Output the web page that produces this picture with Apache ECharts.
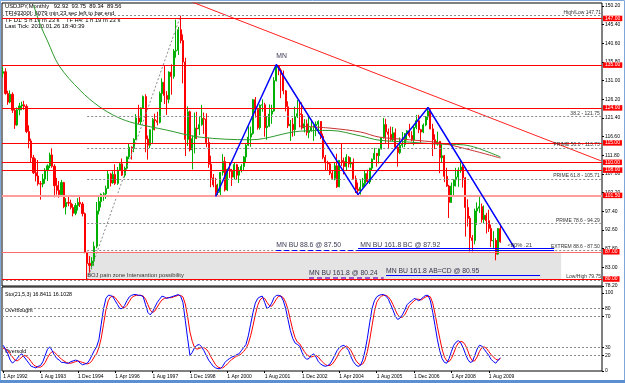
<!DOCTYPE html>
<html><head><meta charset="utf-8">
<script src="https://cdn.jsdelivr.net/npm/echarts@6/dist/echarts.min.js"></script>
<style>html,body{margin:0;padding:0;background:#fff}#c{width:625px;height:383px}</style>
</head><body><div id="c"></div>
<script>
// ---------- categories (monthly bars, Apr 1992 onwards, with empty right shift) ----------
const MONTHS = ['Jan','Feb','Mar','Apr','May','Jun','Jul','Aug','Sep','Oct','Nov','Dec'];
const NUM_SLOTS = 257;
const categories = [];
for (let i = 0; i < NUM_SLOTS; i++) { const t = 3 + i; categories.push('1 ' + MONTHS[t % 12] + ' ' + (1992 + Math.floor(t / 12))); }
const LAST_BAR = 213;

// ---------- USDJPY monthly OHLC ----------
const opens = [132.9,133.3,127.7,125.5,127.5,123.4,119.6,123.5,124.5,124.8,
124.4,117.9,115.5,111.2,107.3,106.5,104.5,104.4,105.7,108.0,
109.1,111.9,109.0,104.0,102.8,101.7,104.8,98.6,99.7,99.5,
98.4,96.9,98.9,99.7,99.3,96.8,86.9,84.0,83.5,84.6,
88.4,97.5,99.9,101.8,101.9,103.3,107.0,104.7,106.9,104.6,
108.0,109.6,106.7,108.5,111.4,113.9,113.6,115.9,121.4,120.4,
124.0,126.9,116.0,114.4,118.4,121.0,120.7,120.3,127.7,130.6,
127.2,126.2,133.2,132.1,138.6,138.8,144.1,141.3,135.8,115.9,
123.0,113.2,116.1,118.8,118.6,119.7,121.3,121.1,115.1,109.5,
106.0,104.2,102.2,102.3,107.4,110.2,102.9,108.2,107.7,106.2,
109.4,106.7,108.0,108.9,111.4,114.4,116.5,117.4,126.1,123.6,
118.9,124.7,124.8,118.9,119.3,122.4,123.2,131.0,134.7,133.7,
132.6,128.4,124.3,119.4,119.8,118.4,121.8,122.5,122.3,118.8,
119.9,117.7,118.1,119.0,119.4,119.8,120.5,116.7,111.3,109.9,
109.6,107.2,105.9,109.1,103.7,110.5,110.2,108.9,111.3,109.6,
110.0,105.8,103.1,102.7,103.6,104.6,107.1,105.0,108.5,110.8,
112.3,111.7,113.4,116.3,119.7,117.8,117.2,115.8,117.6,113.9,
112.5,114.4,114.6,117.4,118.1,116.9,115.8,119.0,120.7,118.4,
117.8,119.6,121.7,123.2,118.6,115.8,114.8,115.4,111.2,111.7,
106.4,103.9,99.7,103.9,105.5,106.2,108.0,108.8,106.0,98.4,
95.6,90.6,89.9,97.5,98.2,98.6,95.3,96.4,95.0,93.0,
89.8,89.9,86.4,92.92];
const highs = [134.5,134.2,128.4,128.5,128.0,123.8,124.1,125.3,125.6,125.8,
124.9,119.5,116.1,111.9,111.0,110.6,105.2,107.0,108.5,109.5,
112.5,113.6,109.5,106.0,105.2,105.5,105.0,100.8,101.3,100.4,
99.3,99.5,100.8,101.4,99.8,97.1,86.9,85.9,85.6,89.6,
99.8,101.1,102.0,102.3,104.0,107.9,107.3,107.7,109.5,108.8,
109.8,111.0,108.9,111.5,114.9,114.1,116.2,122.4,124.8,124.1,
127.2,127.5,116.9,118.5,121.4,122.5,123.0,128.2,131.6,135.0,
128.3,133.4,135.2,139.1,146.7,144.8,147.7,142.9,136.9,124.4,
123.3,116.9,122.8,123.0,121.8,124.8,122.8,122.6,116.3,111.7,
107.0,106.0,104.5,107.5,112.1,111.4,108.4,110.1,108.3,110.0,
109.6,108.8,109.5,111.6,114.7,119.3,119.2,126.3,126.8,124.0,
124.9,126.2,125.3,121.9,124.9,124.8,131.9,135.2,134.9,134.2,
133.6,128.6,125.7,120.9,121.4,124.3,126.0,125.6,125.4,121.1,
121.0,121.8,120.6,119.5,120.5,120.8,120.6,117.4,111.9,110.4,
109.8,108.0,110.0,112.2,110.6,114.9,111.2,112.1,111.6,111.3,
111.0,106.6,104.8,105.4,106.0,107.8,108.1,108.6,111.0,113.7,
112.4,113.6,116.4,121.4,121.2,118.7,119.2,119.1,118.7,114.1,
116.4,117.8,117.5,118.3,119.9,118.0,119.3,122.2,122.2,118.6,
120.0,121.9,124.1,123.6,119.9,117.2,117.9,115.5,114.6,111.9,
108.6,104.2,104.8,105.6,108.6,108.7,110.7,109.3,106.2,100.5,
96.2,91.3,98.1,99.7,101.4,99.4,98.9,97.0,97.8,94.0,
92.3,90.5,93.1,93.75];
const lows = [131.9,127.4,124.8,125.2,122.7,118.6,119.4,122.1,123.4,123.5,
117.5,113.6,110.0,107.0,105.1,104.0,100.4,103.6,104.5,105.2,
108.5,108.6,101.0,101.7,100.9,101.5,98.2,96.6,98.7,97.9,
96.1,96.4,97.6,98.5,96.1,86.6,79.75,81.6,82.5,83.4,
87.9,96.6,98.4,100.1,100.6,103.2,103.8,104.5,104.2,104.2,
107.8,106.5,106.1,108.2,110.8,110.7,112.6,115.7,119.8,119.7,
123.8,112.6,110.7,113.7,114.7,118.2,119.5,120.0,125.5,125.0,
122.2,125.2,127.4,131.5,136.9,137.6,140.6,130.3,111.6,114.2,
112.8,108.2,112.3,116.0,117.0,119.4,117.3,113.9,108.6,103.6,
103.6,101.5,101.3,101.4,106.6,102.5,102.6,106.0,103.9,105.6,
105.6,104.7,107.4,107.8,109.8,114.2,114.0,117.1,121.5,118.4,
118.4,123.0,116.6,115.8,119.1,119.9,123.0,130.8,132.4,126.5,
127.5,123.1,118.8,115.5,116.6,116.8,121.4,119.0,118.4,117.7,
116.9,116.2,117.9,115.5,116.7,117.4,116.0,110.8,107.9,107.9,
106.7,105.5,105.4,103.4,103.6,109.1,106.9,108.0,108.7,108.6,
105.6,102.1,101.8,101.7,103.5,103.7,104.5,104.4,107.9,110.6,
108.9,109.7,113.3,116.1,115.0,113.4,115.5,115.4,113.7,108.9,
112.1,113.8,113.9,115.6,116.4,115.4,114.4,118.5,117.5,115.1,
117.5,119.3,120.9,118.5,111.6,113.4,114.3,107.2,110.0,104.9,
103.7,95.7,99.6,101.5,103.8,103.7,107.3,103.5,90.9,93.5,
87.1,87.1,88.9,93.9,97.0,94.5,94.4,91.7,92.1,88.2,
88.0,84.8,86.2,89.34];
const closes = [133.3,127.7,125.5,127.5,123.4,119.6,123.5,124.5,124.8,124.4,
117.9,115.5,111.2,107.3,106.5,104.5,104.4,105.7,108.0,109.1,
111.9,109.0,104.0,102.8,101.7,104.8,98.6,99.7,99.5,98.4,
96.9,98.9,99.7,99.3,96.8,86.9,84.0,83.5,84.6,88.4,
97.5,99.9,101.8,101.9,103.3,107.0,104.7,106.9,104.6,108.0,
109.6,106.7,108.5,111.4,113.9,113.6,115.9,121.4,120.4,124.0,
126.9,116.0,114.4,118.4,121.0,120.7,120.3,127.7,130.6,127.2,
126.2,133.2,132.1,138.6,138.8,144.1,141.3,135.8,115.9,123.0,
113.2,116.1,118.8,118.6,119.7,121.3,121.1,115.1,109.5,106.0,
104.2,102.2,102.3,107.4,110.2,102.9,108.2,107.7,106.2,109.4,
106.7,108.0,108.9,111.4,114.4,116.5,117.4,126.1,123.6,118.9,
124.7,124.8,118.9,119.3,122.4,123.2,131.0,134.7,133.7,132.6,
128.4,124.3,119.4,119.8,118.4,121.8,122.5,122.3,118.8,119.9,
117.7,118.1,119.0,119.4,119.8,120.5,116.7,111.3,109.9,109.6,
107.2,105.9,109.1,103.7,110.5,110.2,108.9,111.3,109.6,110.0,
105.8,103.1,102.7,103.6,104.6,107.1,105.0,108.5,110.8,112.3,
111.7,113.4,116.3,119.7,117.8,117.2,115.8,117.6,113.9,112.5,
114.4,114.6,117.4,118.1,116.9,115.8,119.0,120.7,118.4,117.8,
119.6,121.7,123.2,118.6,115.8,114.8,115.4,111.2,111.7,106.4,
103.9,99.7,103.9,105.5,106.2,108.0,108.8,106.0,98.4,95.6,
90.6,89.9,97.5,98.2,98.6,95.3,96.4,95.0,93.0,89.8,
89.9,86.4,93.0,89.56];

// ---------- moving averages (read at anchor months) ----------
const greenMA = [[13,150.5],[16,145.2],[19,141.2],[24,134.8],[33,128.5],[41,124.4],[49,121.6],[56,120.1],[70,118.3],[84,116.5],[106,115.8],[127,118.0],[140,118.2],[153,116.8],[161,115.7],[174,115.2],[186,114.7],[197,114.5],[203,113.7],[213,111.4]];
const redMA = [[127,119.3],[140,118.8],[153,117.8],[161,116.5],[174,115.8],[187,115.0],[200,113.2],[213,111.1]];

// ---------- drawn objects ----------
const zigzag = [[91,101.2],[117,135.15],[152,101.7],[182,124.1],[219,88.0]];
const trendRed = [[81,151.2],[256,110.4]];
const fibDiag = [[36,79.75],[76,147.71]];
const redLevels = [147.00,135.00,124.00,115.00,110.00,108.00,101.50,87.00,80.00];
const bidPrice = 89.56;
const fibFull = [[147.71,'High/Low 147.71'],[79.75,'Low/High 79.75']];
const fibLevels = [[121.75,'38.2 - 121.75'],[113.73,'PRIME 50.0 - 113.73'],[105.71,'PRIME 61.8 - 105.71'],[94.29,'PRIME 78.6 - 94.29'],[87.50,'EXTREM 88.6 - 87.50']];
const fibStart = 36;
const zone = [36,239,79.75,87.00];
const mnDashed = [[117,152,87.50]];
const mnSolid = [[152,236,87.92],[152,236,87.50],[164,230,80.95]];
const mnPurple = [[131,163,80.24]];
const annotations = [[117,137.2,'MN'],[117,88.6,'MN BU 88.6 @ 87.50'],[153,88.8,'MN BU 161.8 BC @ 87.92'],[131,81.5,'MN BU 161.8 @ 80.24'],[164,82.15,'MN BU 161.8 AB=CD @ 80.95']];
const smallNotes = [[36,81.0,'BOJ pain zone Intervantion possibility'],[216,88.6,'<80% .21']];

// ---------- stochastic (21,5,3) ----------
const stoK = [33,28,22,14,10,13,16,20,22,18,
14,10,6,5,4,6,7,12,20,28,
31,26,20,16,14,11,11,10,10,12,
13,14,13,10,8,9,10,14,20,26,
31,40,60,80,93,97,97,95,90,85,
80,80,84,90,95,97,98,98,97,97,
95,85,75,72,76,82,88,92,96,95,
93,94,95,96,97,98,96,88,65,42,
20,24,30,33,34,31,26,20,14,10,
6,4,3,3,6,11,14,16,18,19,
21,22,26,30,34,45,60,75,87,93,
95,96,88,80,82,87,94,97,97,96,
90,80,66,52,42,36,34,32,24,18,
15,16,20,22,18,12,9,7,6,7,
9,14,20,26,30,32,33,30,26,18,
12,8,6,7,14,26,42,62,80,90,
95,97,98,98,96,92,85,78,70,66,
68,72,78,85,88,90,93,92,90,92,
95,97,97,90,75,58,40,26,16,11,
10,16,25,33,37,39,36,30,22,15,
11,12,20,28,33,32,28,24,20,15,
12,10,14,16.84];
const stoD = [29,28,26,22,18,14,13,15,18,20,
19,16,12,8,6,5,5,7,11,17,
22,25,24,21,18,15,13,11,10,10,
11,12,13,12,11,10,9,10,13,18,
22,30,42,60,78,90,95,96,94,90,
86,82,81,84,89,94,96,97,97,97,
96,92,85,78,75,77,82,87,91,93,
94,94,94,95,96,97,97,95,86,70,
50,38,30,28,29,30,30,28,24,18,
13,8,5,4,4,6,9,12,15,17,
19,20,22,25,29,35,45,58,72,84,
91,94,93,88,84,83,87,92,96,96,
94,88,79,66,53,43,37,35,30,25,
21,19,18,19,20,18,14,11,8,7,
7,9,13,18,24,28,30,32,30,26,
20,14,10,8,9,14,25,40,58,76,
88,93,96,97,97,95,91,85,78,72,
69,69,72,78,84,87,90,92,92,91,
93,95,96,95,87,73,57,42,28,18,
13,12,16,23,31,36,38,37,33,26,
18,13,13,18,25,30,31,29,25,21,
18,15,14,16.1];
const stoLevels = [80,70,30,20];

// ---------- tick labels ----------
const priceTicks = [150.2,145.4,140.6,135.8,131.0,126.2,121.4,116.6,111.8,107.0,102.2,97.4,92.6,87.8,83.0,78.2];
const stoTicks = [0,20,30,70,80,100];
const headerLines = ['USDJPY,Monthly   92.92  93.75  89.34  89.56','TF[43200]: 6079 min 23 sec left to bar end','TF D1: 5 h 19 m 23 s    TF H4: 1 h 19 m 23 s','Last Tick: 2010.01.26 18:40:39'];
const stoTitle = 'Sto(21,5,3) 16.8411 16.1028';

// ================= build =================
const FONT = '"Liberation Sans", Arial, sans-serif';
const chart = echarts.init(document.getElementById('c'), null, {renderer:'canvas'});
const candleData = opens.map((o,i)=>[o, closes[i], lows[i], highs[i]]);
const xlabIdx = (i) => i % 16 === 0 && i <= LAST_BAR;
const dotted = {color:'#8a8a8a', width:1, type:[2,2]};
function seg(i0,i1,v,lineStyle,label){ return [{coord:[i0,v], lineStyle, label: label || {show:false}},{coord:[i1,v]}]; }

const series = [
  { type:'line', xAxisIndex:0, yAxisIndex:0, data:[], z:0,
    markArea:{silent:true, itemStyle:{color:'#e4e4e4'}, data:[[{coord:[zone[0],zone[3]]},{coord:[zone[1],zone[2]]}]]} },
  { type:'line', xAxisIndex:0, yAxisIndex:0, data:[], z:1,
    markLine:{silent:true, symbol:'none', animation:false,
      data: fibFull.map(f=>({yAxis:f[0], lineStyle:dotted, label:{show:true, position:'insideEndTop', formatter:f[1], fontSize:5, color:'#333', fontFamily:FONT, distance:[1,0.5]}}))
        .concat(fibLevels.map(f=>seg(fibStart, NUM_SLOTS-1, f[0], dotted, {show:true, position:'insideEndTop', formatter:f[1], fontSize:5, color:'#333', fontFamily:FONT, distance:[1,0.5]})))} },
  { type:'line', xAxisIndex:0, yAxisIndex:0, data:[], z:2,
    markLine:{silent:true, symbol:'none', animation:false,
      data: redLevels.map(v=>({yAxis:v, lineStyle:{color: v===101.5 ? '#ff9c9c' : (v===87 ? '#ff6a6a' : '#ff0000'), width: v===101.5 ? 2 : 1, type:'solid'},
        label:{show:true, position:'end', distance:1, formatter:v.toFixed(2), backgroundColor:'#ff0000', color:'#fff', fontSize:5, fontFamily:FONT, padding:[0.5,2,0,2]}}))
        .concat([{yAxis:bidPrice, lineStyle:{opacity:0}, label:{show:true, position:'end', distance:1, formatter:bidPrice.toFixed(2), backgroundColor:'#000', color:'#fff', fontSize:5, fontFamily:FONT, padding:[0.5,2,0,2]}}])} },
  { type:'candlestick', xAxisIndex:0, yAxisIndex:0, data:candleData, barWidth:1.6, z:3,
    itemStyle:{color:'#00b000', color0:'#ff0000', borderColor:'#00b000', borderColor0:'#ff0000', borderWidth:1} },
  { type:'line', xAxisIndex:0, yAxisIndex:0, data:greenMA, smooth:0.35, symbol:'none', z:4, lineStyle:{color:'#2e9a2e', width:1} },
  { type:'line', xAxisIndex:0, yAxisIndex:0, data:redMA, smooth:0.35, symbol:'none', z:4, lineStyle:{color:'#c83232', width:1} },
  { type:'line', xAxisIndex:0, yAxisIndex:0, data:fibDiag, symbol:'none', z:4, lineStyle:dotted },
  { type:'line', xAxisIndex:0, yAxisIndex:0, data:trendRed, symbol:'none', z:4, lineStyle:{color:'#ff2020', width:1} },
  { type:'line', xAxisIndex:0, yAxisIndex:0, data:zigzag, symbol:'none', z:5, lineStyle:{color:'#0000ff', width:1.5} },
  { type:'line', xAxisIndex:0, yAxisIndex:0, data:[], z:5,
    markLine:{silent:true, symbol:'none', animation:false,
      data: mnDashed.map(s=>seg(s[0],s[1],s[2],{color:'#0000ff', width:1, type:[5,3]}))
        .concat(mnSolid.map(s=>seg(s[0],s[1],s[2],{color:'#0000ff', width:1, type:'solid'})))
        .concat(mnPurple.map(s=>seg(s[0],s[1],s[2],{color:'#7b2fbf', width:1.5, type:[5,3]})))} },
  { type:'scatter', xAxisIndex:0, yAxisIndex:0, symbolSize:0, z:6, silent:true,
    data: annotations.map(a=>({value:[a[0],a[1]], name:a[2]})),
    label:{show:true, position:'right', distance:0, formatter:'{b}', fontSize:6.8, color:'#000022', fontFamily:FONT} },
  { type:'scatter', xAxisIndex:0, yAxisIndex:0, symbolSize:0, z:6, silent:true,
    data: smallNotes.map(a=>({value:[a[0],a[1]], name:a[2]})),
    label:{show:true, position:'right', distance:0, formatter:'{b}', fontSize:5.8, color:'#000', fontFamily:FONT} },
  // stochastic
  { type:'line', xAxisIndex:1, yAxisIndex:1, data:[], z:1,
    markLine:{silent:true, symbol:'none', animation:false, label:{show:false},
      data: stoLevels.map(v=>({yAxis:v, lineStyle:{color:'#8a8a8a', width:1, type:[2,2]}}))} },
  { type:'line', xAxisIndex:1, yAxisIndex:1, data:stoD, symbol:'none', z:3, lineStyle:{color:'#ff0000', width:1} },
  { type:'line', xAxisIndex:1, yAxisIndex:1, data:stoK, symbol:'none', z:4, lineStyle:{color:'#0000ff', width:1} }
];

const axisLbl = {fontSize:5, color:'#000', fontFamily:FONT};
const option = {
  animation:false,
  backgroundColor:'#ffffff',
  grid:[
    {left:2, top:3, width:600, height:283, show:true, borderColor:'#000', borderWidth:1, backgroundColor:'transparent'},
    {left:2, top:287, width:600, height:84, show:true, borderColor:'#000', borderWidth:1, backgroundColor:'transparent'}
  ],
  xAxis:[
    {type:'category', gridIndex:0, data:categories, axisLine:{show:false}, axisTick:{show:false}, axisLabel:{show:false}, splitLine:{show:false}},
    {type:'category', gridIndex:1, data:categories, axisLine:{show:false},
      axisTick:{show:true, interval:xlabIdx, alignWithLabel:true, length:2, lineStyle:{color:'#000'}},
      axisLabel:Object.assign({interval:xlabIdx, align:'left', margin:3}, axisLbl), splitLine:{show:false}}
  ],
  yAxis:[
    {type:'value', gridIndex:0, position:'right', min:78.2, max:150.97, splitLine:{show:false}, axisLine:{show:false},
      axisTick:{show:true, customValues:priceTicks, length:2, lineStyle:{color:'#000'}},
      axisLabel:Object.assign({customValues:priceTicks, formatter:v=>v.toFixed(2), margin:3}, axisLbl)},
    {type:'value', gridIndex:1, position:'right', min:0, max:107.7, splitLine:{show:false}, axisLine:{show:false},
      axisTick:{show:true, customValues:stoTicks, length:2, lineStyle:{color:'#000'}},
      axisLabel:Object.assign({customValues:stoTicks, formatter:v=>String(v), margin:3}, axisLbl)}
  ],
  graphic:[
    {type:'rect', silent:true, shape:{x:0.5, y:0.5, width:624, height:382}, style:{fill:'none', stroke:'#7fa7d9', lineWidth:1}},
    {type:'rect', silent:true, shape:{x:0, y:380, width:625, height:3}, style:{fill:'#5b8fd0'}}
  ].concat(headerLines.map((t,k)=>({type:'text', silent:true, x:5, y:6.7 + k*6.7, style:{text:t, font:'5.8px ' + FONT, fill:'#000', textVerticalAlign:'middle'}})))
   .concat([
    {type:'text', silent:true, x:5, y:295, style:{text:stoTitle, font:'5.3px ' + FONT, fill:'#000', textVerticalAlign:'middle'}},
    {type:'text', silent:true, x:5, y:311, style:{text:'Overbought', font:'5.3px ' + FONT, fill:'#000', textVerticalAlign:'middle'}},
    {type:'text', silent:true, x:5, y:351.5, style:{text:'Oversold', font:'5.3px ' + FONT, fill:'#000', textVerticalAlign:'middle'}}
  ]),
  series
};
chart.setOption(option);
</script>
</body></html>
